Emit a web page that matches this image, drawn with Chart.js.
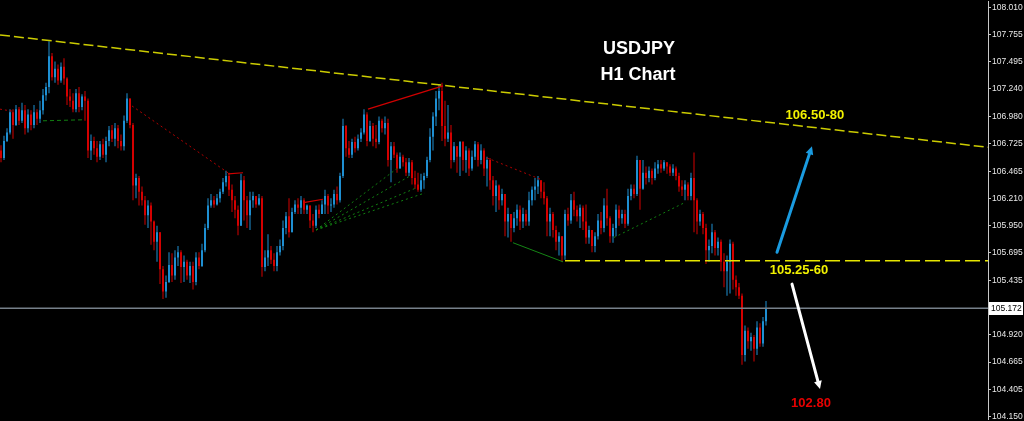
<!DOCTYPE html>
<html><head><meta charset="utf-8">
<script src="https://cdn.jsdelivr.net/npm/chart.js@4.4.1/dist/chart.umd.min.js"></script>
<style>html,body{margin:0;padding:0;background:#000;}#wrap{position:relative;width:1024px;height:421px;}</style>
</head><body><div id="wrap"><canvas id="c"></canvas></div>
<script>
// ---- data (USDJPY H1) ----
const firstOpen = 106.66;
const close = [
 106.59,106.75,106.83,107.02,106.90,107.05,106.94,107.04,106.87,107.00,
 106.90,107.02,106.96,107.04,107.18,107.26,107.55,107.35,107.43,107.32,
 107.45,107.34,107.17,107.13,107.05,107.20,107.07,107.17,107.13,106.66,
 106.75,106.68,106.60,106.72,106.62,106.75,106.85,106.77,106.87,106.75,
 106.70,106.94,107.15,106.90,106.33,106.40,106.27,106.19,106.05,106.14,
 105.99,105.80,105.89,105.54,105.33,105.42,105.58,105.48,105.65,105.70,
 105.56,105.61,105.48,105.57,105.42,105.65,105.57,105.72,105.93,106.14,
 106.19,106.15,106.21,106.27,106.36,106.42,106.29,106.19,106.10,105.95,
 106.38,106.19,106.05,106.19,106.23,106.15,106.21,105.56,105.65,105.72,
 105.63,105.57,105.70,105.76,105.93,106.04,105.89,106.08,106.15,106.12,
 106.19,106.10,106.14,106.00,105.95,106.10,106.06,106.15,106.23,106.14,
 106.15,106.25,106.19,106.42,106.89,106.68,106.62,106.74,106.68,106.77,
 106.83,107.00,106.75,106.89,106.77,106.74,106.94,106.87,106.92,106.57,
 106.70,106.62,106.49,106.60,106.55,106.45,106.55,106.40,106.34,106.29,
 106.38,106.42,106.57,106.79,106.98,107.15,107.22,106.89,106.77,106.83,
 106.57,106.70,106.60,106.74,106.57,106.66,106.49,106.60,106.72,106.57,
 106.66,106.49,106.57,106.38,106.23,106.33,106.19,106.25,105.99,106.06,
 105.93,106.02,106.10,105.99,106.06,105.99,106.19,106.29,106.32,106.38,
 106.27,106.21,105.99,106.06,105.91,105.80,105.85,105.67,106.06,106.00,
 106.19,106.10,106.04,106.12,105.99,105.84,105.91,105.76,105.85,106.00,
 105.93,106.14,106.02,105.85,105.93,106.10,106.02,106.06,105.97,106.23,
 106.30,106.25,106.57,106.30,106.45,106.40,106.47,106.40,106.49,106.53,
 106.49,106.55,106.51,106.45,106.49,106.42,106.32,106.29,106.34,106.23,
 106.40,106.19,105.99,106.06,105.93,105.72,105.76,105.89,105.74,105.80,
 105.61,105.52,105.61,105.78,105.44,105.37,105.29,104.73,104.96,104.86,
 104.90,104.79,104.99,104.84,105.05,105.17];
const high = [
 106.71,106.80,106.87,107.05,107.05,107.09,107.07,107.11,107.09,107.05,
 107.04,107.09,107.05,107.13,107.24,107.30,107.69,107.58,107.50,107.47,
 107.49,107.53,107.35,107.24,107.20,107.24,107.26,107.19,107.22,107.15,
 106.81,106.79,106.75,106.75,106.77,106.79,106.89,106.90,106.92,106.90,
 106.81,106.99,107.20,107.09,106.92,106.44,106.42,106.32,106.23,106.19,
 106.17,106.00,105.95,105.74,105.57,105.48,105.70,105.69,105.72,105.76,
 105.72,105.67,105.63,105.61,105.61,105.70,105.70,105.78,105.97,106.21,
 106.25,106.23,106.25,106.30,106.40,106.47,106.45,106.34,106.23,106.14,
 106.44,106.42,106.23,106.27,106.27,106.23,106.25,106.23,105.72,105.87,
 105.76,105.69,105.76,105.82,106.00,106.08,106.21,106.12,106.19,106.21,
 106.23,106.21,106.15,106.14,106.06,106.14,106.15,106.19,106.29,106.25,
 106.21,106.29,106.32,106.45,106.96,106.90,106.75,106.77,106.79,106.81,
 106.87,107.05,107.02,106.94,106.92,106.90,106.98,106.96,106.98,106.96,
 106.74,106.74,106.64,106.64,106.62,106.59,106.59,106.57,106.47,106.45,
 106.44,106.45,106.60,106.87,107.02,107.22,107.28,107.30,107.13,107.09,
 106.90,106.74,106.70,106.75,106.75,106.70,106.68,106.66,106.75,106.74,
 106.72,106.68,106.60,106.59,106.42,106.38,106.34,106.30,106.12,106.12,
 106.06,106.08,106.15,106.14,106.12,106.10,106.27,106.32,106.40,106.42,
 106.38,106.36,106.23,106.12,106.08,105.95,105.89,105.85,106.10,106.12,
 106.25,106.27,106.14,106.15,106.14,106.15,105.95,105.91,105.89,106.06,
 106.08,106.21,106.30,106.04,105.97,106.15,106.14,106.10,106.10,106.30,
 106.34,106.34,106.61,106.55,106.57,106.51,106.51,106.49,106.55,106.57,
 106.57,106.57,106.55,106.53,106.53,106.51,106.45,106.38,106.38,106.36,
 106.45,106.64,106.21,106.10,106.08,105.97,105.82,105.97,105.91,105.84,
 105.82,105.69,105.67,105.82,105.80,105.48,105.41,105.31,105.01,104.99,
 104.94,104.92,105.05,105.03,105.09,105.24];
const low = [
 106.55,106.57,106.74,106.81,106.77,106.89,106.90,106.92,106.81,106.83,
 106.85,106.87,106.90,106.92,107.00,107.13,107.20,107.32,107.30,107.28,
 107.30,107.28,107.09,107.07,107.02,107.02,107.02,107.04,106.94,106.59,
 106.57,106.62,106.55,106.57,106.59,106.55,106.70,106.74,106.70,106.68,
 106.66,106.66,106.92,106.87,106.19,106.21,106.14,106.14,105.96,105.93,
 105.77,105.72,105.61,105.40,105.26,105.27,105.41,105.42,105.44,105.57,
 105.41,105.42,105.44,105.41,105.35,105.39,105.54,105.56,105.70,105.91,
 106.12,106.12,106.14,106.17,106.25,106.32,106.23,106.08,106.02,105.86,
 105.95,106.00,105.93,105.91,106.12,106.12,106.14,105.47,105.52,105.57,
 105.59,105.52,105.52,105.67,105.72,105.87,105.84,105.93,106.06,106.06,
 106.06,106.06,106.06,105.93,105.89,105.93,106.02,106.06,106.06,106.06,
 106.08,106.12,106.15,106.17,106.40,106.60,106.59,106.59,106.64,106.66,
 106.74,106.81,106.70,106.74,106.70,106.68,106.72,106.83,106.81,106.51,
 106.36,106.59,106.45,106.49,106.51,106.42,106.42,106.34,106.30,106.27,
 106.27,106.30,106.40,106.55,106.66,106.89,107.04,106.75,106.70,106.74,
 106.49,106.55,106.45,106.42,106.47,106.45,106.42,106.47,106.57,106.51,
 106.53,106.42,106.32,106.29,106.14,106.08,106.10,106.14,105.85,105.84,
 105.80,105.89,105.95,105.91,105.93,105.95,105.95,106.14,106.19,106.25,
 106.21,106.15,105.85,105.85,105.84,105.72,105.67,105.61,105.63,105.95,
 105.97,106.04,105.99,105.93,105.91,105.78,105.78,105.70,105.70,105.82,
 105.87,105.89,105.95,105.79,105.79,105.85,105.95,105.97,105.93,105.95,
 106.19,106.21,106.23,106.10,106.29,106.34,106.36,106.34,106.38,106.44,
 106.45,106.47,106.44,106.42,106.42,106.38,106.27,106.23,106.19,106.19,
 106.19,105.89,105.87,105.95,105.87,105.59,105.61,105.69,105.67,105.67,
 105.52,105.37,105.29,105.31,105.35,105.29,105.26,104.64,104.67,104.79,
 104.77,104.67,104.73,104.81,104.81,105.01];
const tickLabels = ['108.010','107.755','107.495','107.240','106.980','106.725','106.465','106.210',
  '105.950','105.695','105.435','104.920','104.665','104.405','104.150'];
const currentPrice = 105.172;
const priceMin = 104.122, priceMax = 108.066;
const barSlots = 329;

// drawn objects, in [bar index, price]
const trendLine   = [[-0.33,107.75],[329,106.69]];
const supportLine = [[188,105.62],[329,105.62]];
const redDotted = [ [[-0.33,107.05],[4,107.03]], [[43.67,107.08],[75.67,106.45]], [[162,106.59],[179.67,106.39]] ];
const redSolid  = [ [[75.67,106.44],[80.67,106.45]], [[101.33,106.17],[107.33,106.20]], [[122.33,107.05],[147.33,107.27]] ];
const greenDotted = [ [[105,105.91],[132,106.49]], [[105,105.91],[136.33,106.42]], [[105,105.91],[138.67,106.31]],
  [[105,105.91],[141.33,106.26]], [[204.33,105.84],[228,106.17]] ];
const greenDashed = [ [[14,106.94],[28,106.95]] ];
const greenSolid  = [ [[170.67,105.79],[187.33,105.61]] ];
const arrows = [ {from:[258.67,105.70], to:[270.33,106.70], kind:'up'}, {from:[263.67,105.40], to:[273,104.41], kind:'down'} ];
const notes = [ {text:'USDJPY', at:[212.7,107.62], kind:'title'}, {text:'H1 Chart', at:[212.3,107.37], kind:'title'},
  {text:'106.50-80', at:[271.3,106.99], kind:'target'}, {text:'105.25-60', at:[266,105.53], kind:'target'},
  {text:'102.80', at:[270,104.27], kind:'low'} ];

// ---- build ----
const BULL = '#1e8fd2', BEAR = '#d40000';
const candles = close.map((c, i) => {
  const o = i ? close[i-1] : firstOpen;
  return {i, o, c, h: Math.max(high[i], o, c), l: Math.min(low[i], o, c)};
});
const colorOf = ctx => { const k = candles[ctx.dataIndex]; return k && k.c >= k.o ? BULL : BEAR; };

const lineStyles = {
  trend:  {borderColor:'#cccc00', borderWidth:1.5, borderDash:[10,4]},
  support:{borderColor:'#e6e600', borderWidth:1.5, borderDash:[15,5]},
  price:  {borderColor:'#76808a', borderWidth:1.3, borderDash:[]},
  redDot: {borderColor:'#b00000', borderWidth:1, borderDash:[2,3]},
  redSol: {borderColor:'#d00000', borderWidth:1.2, borderDash:[]},
  grnDot: {borderColor:'#118011', borderWidth:1, borderDash:[2,3]},
  grnDash:{borderColor:'#118011', borderWidth:1, borderDash:[4,3]},
  grnSol: {borderColor:'#158515', borderWidth:1, borderDash:[]}
};
function seg(points, style) {
  return Object.assign({type:'line', data: points.map(([x,y]) => ({x, y})), pointRadius:0, fill:false,
    tension:0, order:0, clip:false}, lineStyles[style]);
}
const datasets = [
  seg(trendLine, 'trend'),
  seg(supportLine, 'support'),
  seg([[-0.33,currentPrice],[barSlots,currentPrice]], 'price'),
  ...redDotted.map(s => seg(s,'redDot')),
  ...redSolid.map(s => seg(s,'redSol')),
  ...greenDotted.map(s => seg(s,'grnDot')),
  ...greenDashed.map(s => seg(s,'grnDash')),
  ...greenSolid.map(s => seg(s,'grnSol')),
  {type:'bar', order:2, data: candles.map(k => ({x:k.i, y:[k.l, k.h]})), backgroundColor:colorOf, maxBarThickness:1},
  {type:'bar', order:1, data: candles.map(k => ({x:k.i, y:[k.o, k.c]})), backgroundColor:colorOf, maxBarThickness:2, minBarLength:1}
];

const overlay = {
  id:'overlay',
  afterDatasetsDraw(chart) {
    const {ctx, scales:{x, y}} = chart;
    ctx.save();
    arrows.forEach(a => {
      const x1 = x.getPixelForValue(a.from[0]), y1 = y.getPixelForValue(a.from[1]);
      const x2 = x.getPixelForValue(a.to[0]), y2 = y.getPixelForValue(a.to[1]);
      const col = a.kind === 'up' ? '#1a9be0' : '#ffffff';
      const ang = Math.atan2(y2 - y1, x2 - x1), hl = 9;
      ctx.strokeStyle = col; ctx.fillStyle = col; ctx.lineWidth = 3; ctx.lineCap = 'round';
      ctx.beginPath(); ctx.moveTo(x1, y1); ctx.lineTo(x2 - Math.cos(ang)*hl*0.6, y2 - Math.sin(ang)*hl*0.6); ctx.stroke();
      ctx.beginPath(); ctx.moveTo(x2, y2);
      ctx.lineTo(x2 - hl*Math.cos(ang - 0.45), y2 - hl*Math.sin(ang - 0.45));
      ctx.lineTo(x2 - hl*Math.cos(ang + 0.45), y2 - hl*Math.sin(ang + 0.45));
      ctx.closePath(); ctx.fill();
    });
    ctx.textAlign = 'center'; ctx.textBaseline = 'middle';
    notes.forEach(n => {
      const px = x.getPixelForValue(n.at[0]), py = y.getPixelForValue(n.at[1]);
      if (n.kind === 'title') { ctx.font = 'bold 18px "Liberation Sans", Arial, sans-serif'; ctx.fillStyle = '#ffffff'; }
      else if (n.kind === 'target') { ctx.font = 'bold 13px "Liberation Sans", Arial, sans-serif'; ctx.fillStyle = '#f2f200'; }
      else { ctx.font = 'bold 13px "Liberation Sans", Arial, sans-serif'; ctx.fillStyle = '#e60000'; }
      ctx.fillText(n.text, px, py);
    });
    ctx.restore();
  },
  afterDraw(chart) {
    const {ctx, chartArea, scales:{y}} = chart;
    const py = Math.round(y.getPixelForValue(currentPrice));
    ctx.save();
    ctx.fillStyle = '#ffffff';
    ctx.fillRect(chartArea.right + 1, py - 6, 34, 13);
    ctx.fillStyle = '#000000';
    ctx.font = '8.5px "Liberation Sans", Arial, sans-serif';
    ctx.textAlign = 'left'; ctx.textBaseline = 'middle';
    ctx.fillText(currentPrice.toFixed(3), chartArea.right + 3, py + 0.5);
    ctx.restore();
  }
};

new Chart(document.getElementById('c'), {
  type:'bar',
  data:{datasets},
  options:{
    responsive:true, maintainAspectRatio:false, animation:false,
    layout:{padding:0},
    plugins:{legend:{display:false}, tooltip:{enabled:false}},
    events:[],
    datasets:{bar:{grouped:false, barPercentage:1, categoryPercentage:1, inflateAmount:0, borderWidth:0}},
    scales:{
      x:{type:'linear', display:false, min:-1/3, max:barSlots, offset:false},
      y:{type:'linear', position:'right', min:priceMin, max:priceMax,
         afterBuildTicks: s => { s.ticks = tickLabels.map(t => ({value: parseFloat(t)})); },
         afterFit: s => { s.width = 36; },
         ticks:{autoSkip:false, color:'#e8e8e8', padding:1, font:{family:'"Liberation Sans", Arial, sans-serif', size:8.5, lineHeight:0.1},
                callback:(v, idx) => tickLabels[idx]},
         grid:{drawOnChartArea:false, drawTicks:true, tickLength:3, color:'#c8c8c8'},
         border:{display:true, color:'#c8c8c8', width:1}}
    }
  },
  plugins:[overlay]
});
</script></body></html>
